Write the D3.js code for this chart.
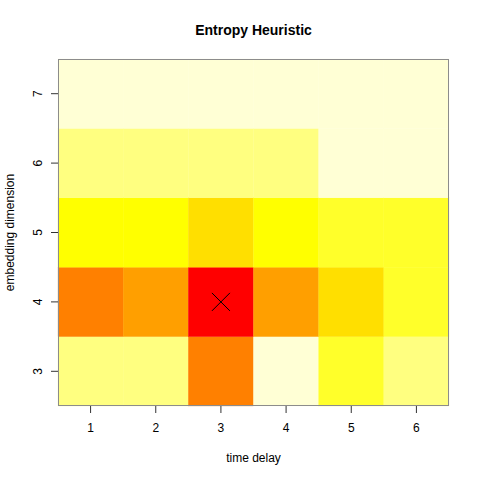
<!DOCTYPE html>
<html>
<head>
<meta charset="utf-8">
<script src="https://cdn.jsdelivr.net/npm/d3@7"></script>
<style>
  body { margin: 0; background: #fff; }
  text { font-family: "Liberation Sans", Arial, sans-serif; }
</style>
</head>
<body>
<div id="chart"></div>
<script>
// time delay (x) and embedding dimension (y)
var delays = [1, 2, 3, 4, 5, 6];
var dims = [3, 4, 5, 6, 7];

// estimated entropy values, one row per embedding dimension (3..7)
var entropyDim3 = [0.87, 0.86, 0.38, 0.95, 0.78, 0.88];
var entropyDim4 = [0.36, 0.45, 0.02, 0.46, 0.62, 0.80];
var entropyDim5 = [0.70, 0.71, 0.63, 0.72, 0.77, 0.79];
var entropyDim6 = [0.85, 0.86, 0.87, 0.89, 0.93, 0.94];
var entropyDim7 = [0.96, 0.97, 0.96, 0.95, 0.98, 0.99];
var entropyRows = [entropyDim3, entropyDim4, entropyDim5, entropyDim6, entropyDim7];

// R heat.colors(12)
var heatColors = ["#FF0000", "#FF2000", "#FF4000", "#FF6000", "#FF8000", "#FF9F00",
                  "#FFBF00", "#FFDF00", "#FFFF00", "#FFFF2A", "#FFFF80", "#FFFFD5"];

var width = 480, height = 480;
var margin = {top: 59, right: 31, bottom: 74, left: 58};

var cells = [];
dims.forEach(function(dm, j) {
    delays.forEach(function(dl, i) {
        cells.push({delay: dl, dim: dm, value: entropyRows[j][i]});
    });
});

var best = cells.reduce(function(a, b) { return b.value < a.value ? b : a; });

var x = d3.scaleBand().domain(delays).range([margin.left, width - margin.right]).padding(0);
var y = d3.scaleBand().domain(dims.slice().reverse()).range([margin.top, height - margin.bottom]).padding(0);
var color = d3.scaleQuantize().domain([0, 1]).range(heatColors);

var svg = d3.select("#chart").append("svg")
    .attr("width", width)
    .attr("height", height);

svg.append("g")
  .selectAll("rect")
  .data(cells)
  .enter()
  .append("rect")
  .attr("x", function(d) { return x(d.delay); })
  .attr("y", function(d) { return y(d.dim); })
  .attr("width", x.bandwidth())
  .attr("height", y.bandwidth())
  .attr("fill", function(d) { return color(d.value); })
  .attr("stroke", function(d) { return color(d.value); })
  .attr("stroke-width", 0.3);

// cross marker (pch = 4) on the minimum
var cx = x(best.delay) + x.bandwidth() / 2, cy = y(best.dim) + y.bandwidth() / 2, s = 9;
svg.append("path")
  .attr("d", "M" + (cx - s) + "," + (cy - s) + "L" + (cx + s) + "," + (cy + s) +
             "M" + (cx - s) + "," + (cy + s) + "L" + (cx + s) + "," + (cy - s))
  .attr("stroke", "#000")
  .attr("stroke-width", 1)
  .attr("fill", "none");

// box
svg.append("rect")
  .attr("x", margin.left + 0.5)
  .attr("y", margin.top + 0.5)
  .attr("width", width - margin.left - margin.right - 1)
  .attr("height", height - margin.top - margin.bottom - 1)
  .attr("fill", "none")
  .attr("stroke", "#8c8c8c")
  .attr("stroke-width", 1);

var xAxis = svg.append("g")
  .attr("transform", "translate(0," + (height - margin.bottom) + ")")
  .call(d3.axisBottom(x).tickSize(7).tickPadding(10));
xAxis.select(".domain").remove();
xAxis.selectAll("line").attr("stroke", "#333");
xAxis.selectAll("text").style("font-size", "12px").attr("fill", "#000");

var yAxis = svg.append("g")
  .attr("transform", "translate(" + margin.left + ",0)")
  .call(d3.axisLeft(y).tickSize(7).tickPadding(0));
yAxis.select(".domain").remove();
yAxis.selectAll("line").attr("stroke", "#333");
yAxis.selectAll("text")
  .style("font-size", "12px")
  .attr("fill", "#000")
  .attr("x", 0).attr("dy", 0)
  .attr("text-anchor", "middle")
  .attr("transform", "translate(-16,0) rotate(-90)");

svg.append("text")
  .attr("x", (margin.left + width - margin.right) / 2)
  .attr("y", 35)
  .attr("text-anchor", "middle")
  .style("font-size", "14px")
  .style("font-weight", "bold")
  .text("Entropy Heuristic");

svg.append("text")
  .attr("x", (margin.left + width - margin.right) / 2)
  .attr("y", 462)
  .attr("text-anchor", "middle")
  .style("font-size", "12px")
  .text("time delay");

svg.append("text")
  .attr("transform", "translate(14," + ((margin.top + height - margin.bottom) / 2) + ") rotate(-90)")
  .attr("text-anchor", "middle")
  .style("font-size", "12px")
  .text("embedding dimension");
</script>
</body>
</html>
